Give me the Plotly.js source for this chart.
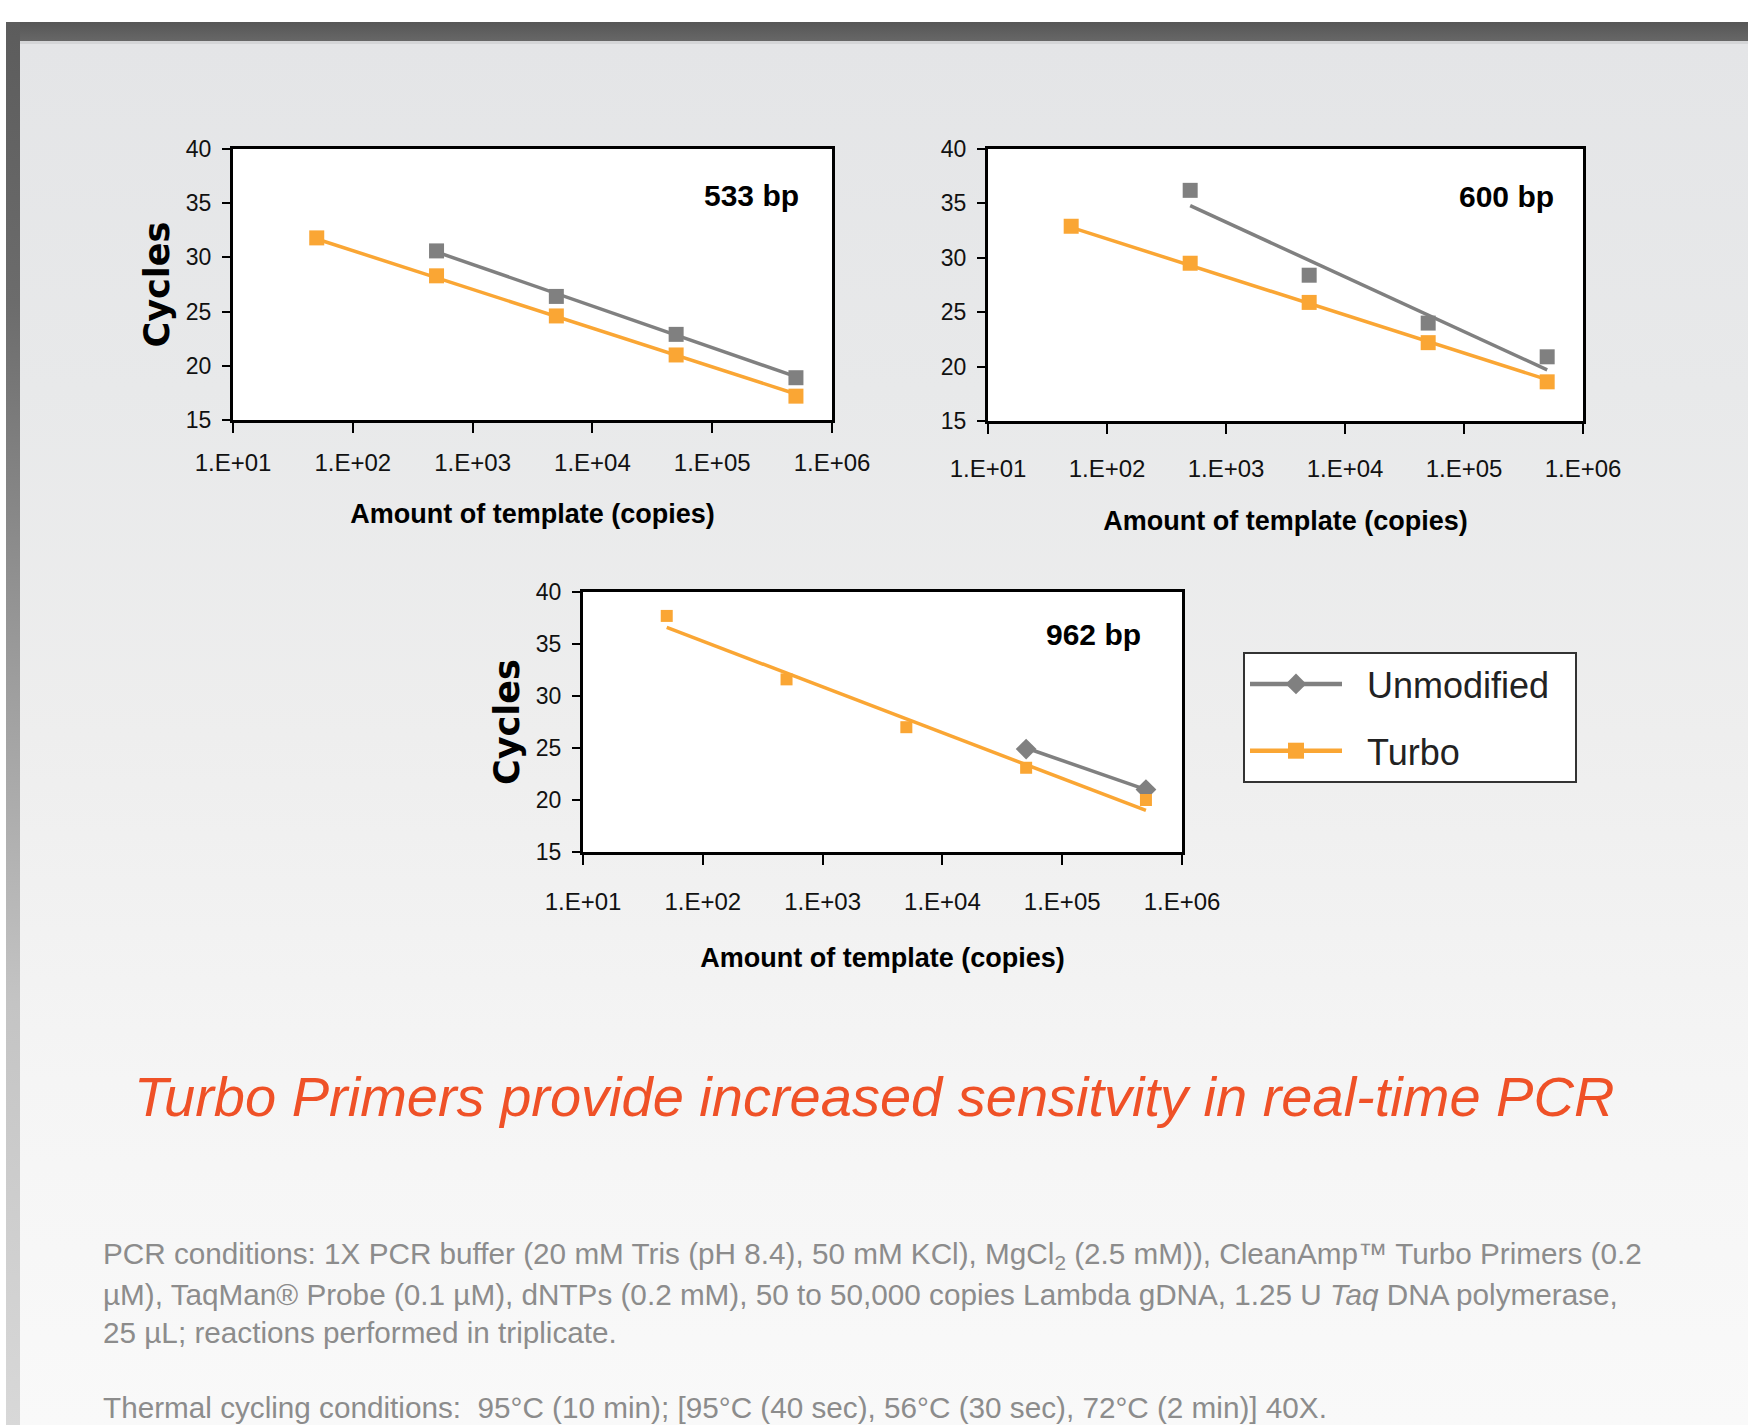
<!DOCTYPE html>
<html>
<head>
<meta charset="utf-8">
<script src="https://cdn.plot.ly/plotly-3.0.1.min.js"></script>
<style>
html,body{margin:0;padding:0;background:#fff;}
#wrap{position:relative;width:1748px;height:1425px;overflow:hidden;background:#fff;}
#band{position:absolute;left:6px;top:22px;width:1742px;height:19px;background:linear-gradient(#565656,#676767);}
#bandline{position:absolute;left:20px;top:41px;width:1728px;height:3px;background:#d4d5d7;}
#leftbar{position:absolute;left:6px;top:22px;width:14px;height:1403px;background:linear-gradient(#5c5c5c 0%,#6c6c6c 20%,#9a9a9a 45%,#c4c4c4 70%,#d8d8d8 100%);}
#panel{position:absolute;left:20px;top:44px;width:1728px;height:1381px;background:linear-gradient(#e4e5e7 0%,#e8e9ea 25%,#eeeeee 50%,#f5f5f5 75%,#f9f9f9 100%);}
#chart{position:absolute;left:0;top:0;width:1748px;height:1425px;}
</style>
</head>
<body>
<div id="wrap">
  <div id="panel"></div>
  <div id="band"></div>
  <div id="bandline"></div>
  <div id="leftbar"></div>
  <div id="chart"></div>
</div>
<script>
// ---------- data ----------
const tickVals = [10, 100, 1000, 10000, 100000, 1000000];
const tickText = ['1.E+01', '1.E+02', '1.E+03', '1.E+04', '1.E+05', '1.E+06'];
const yTicks = [15, 20, 25, 30, 35, 40];

const copies = [50, 500, 5000, 50000, 500000];

// 533 bp
const turbo533 = [31.8, 28.3, 24.6, 21.0, 17.2];
const unmod533Copies = [500, 5000, 50000, 500000];
const unmod533 = [30.6, 26.4, 22.9, 18.9];
const turbo533FitCopies = [50, 500000];
const turbo533Fit = [31.7, 17.4];
const unmod533FitCopies = [500, 500000];
const unmod533Fit = [30.5, 19.0];

// 600 bp
const turbo600 = [32.9, 29.5, 25.9, 22.2, 18.6];
const unmod600Copies = [500, 5000, 50000, 500000];
const unmod600 = [36.2, 28.4, 24.0, 20.9];
const turbo600FitCopies = [50, 500000];
const turbo600Fit = [32.8, 18.8];
const unmod600FitCopies = [500, 500000];
const unmod600Fit = [34.8, 19.7];

// 962 bp
const turbo962 = [37.7, 31.6, 27.0, 23.1, 20.0];
const unmod962Copies = [50000, 500000];
const unmod962 = [24.9, 21.0];
const turbo962FitCopies = [50, 500000];
const turbo962Fit = [36.6, 19.0];
const unmod962FitCopies = [50000, 500000];
const unmod962Fit = [25.0, 21.0];

const panelLabels = ['533 bp', '600 bp', '962 bp'];
const seriesNames = ['Unmodified', 'Turbo'];

// ---------- style ----------
const GRAY = '#808080';
const ORANGE = '#FAA634';
const SANS = '"Liberation Sans", Arial, sans-serif';
const NB = '\u00a0';

function fitLine(x, y, color, xa, ya) {
  return {x: x, y: y, xaxis: xa, yaxis: ya, mode: 'lines', type: 'scatter',
          line: {color: color, width: 3.5}, showlegend: false, hoverinfo: 'skip'};
}
function pts(x, y, color, symbol, size, xa, ya) {
  return {x: x, y: y, xaxis: xa, yaxis: ya, mode: 'markers', type: 'scatter',
          marker: {color: color, symbol: symbol, size: size, line: {width: 0}}, showlegend: false};
}

const traces = [
  fitLine(unmod533FitCopies, unmod533Fit, GRAY, 'x', 'y'),
  fitLine(turbo533FitCopies, turbo533Fit, ORANGE, 'x', 'y'),
  pts(unmod533Copies, unmod533, GRAY, 'square', 15, 'x', 'y'),
  pts(copies, turbo533, ORANGE, 'square', 15, 'x', 'y'),

  fitLine(unmod600FitCopies, unmod600Fit, GRAY, 'x2', 'y2'),
  fitLine(turbo600FitCopies, turbo600Fit, ORANGE, 'x2', 'y2'),
  pts(unmod600Copies, unmod600, GRAY, 'square', 15, 'x2', 'y2'),
  pts(copies, turbo600, ORANGE, 'square', 15, 'x2', 'y2'),

  fitLine(unmod962FitCopies, unmod962Fit, GRAY, 'x3', 'y3'),
  fitLine(turbo962FitCopies, turbo962Fit, ORANGE, 'x3', 'y3'),
  pts(unmod962Copies, unmod962, GRAY, 'diamond', 16, 'x3', 'y3'),
  pts(copies, turbo962, ORANGE, 'square', 12, 'x3', 'y3'),

  // legend entries
  {x: [null], y: [null], xaxis: 'x3', yaxis: 'y3', type: 'scatter', mode: 'lines+markers',
   name: NB + NB + seriesNames[0] + NB + NB, legendgroup: 'a', line: {color: GRAY, width: 4.5},
   marker: {color: GRAY, symbol: 'diamond', size: 16}},
  {x: [null], y: [null], xaxis: 'x3', yaxis: 'y3', type: 'scatter', mode: 'lines+markers',
   name: NB + NB + seriesNames[1], legendgroup: 'b', line: {color: ORANGE, width: 4.5},
   marker: {color: ORANGE, symbol: 'square', size: 16}}
];

function xAxis(domain, anchor, labelGap, titleGap) {
  return {
    domain: domain, anchor: anchor, type: 'log', range: [1, 6],
    tickvals: tickVals, ticktext: tickText,
    ticks: 'outside', ticklen: 10, tickwidth: 2, tickcolor: '#000',
    showline: true, linecolor: '#000', linewidth: 3, mirror: true,
    showgrid: false, zeroline: false, ticklabelstandoff: labelGap,
    tickfont: {family: SANS, size: 24, color: '#111'},
    title: {text: 'Amount of template (copies)', standoff: titleGap,
            font: {family: SANS, size: 27, color: '#000', weight: 'bold'}}
  };
}
function yAxis(domain, anchor, withTitle) {
  const ax = {
    domain: domain, anchor: anchor, range: [15, 40], tickvals: yTicks,
    ticks: 'outside', ticklen: 8, tickwidth: 2, tickcolor: '#000',
    showline: true, linecolor: '#000', linewidth: 3, mirror: true,
    showgrid: false, zeroline: false, ticklabelstandoff: 6,
    tickfont: {family: SANS, size: 23, color: '#111'}
  };
  if (withTitle) {
    ax.title = {text: 'Cycles', standoff: 6,
                font: {family: '"DejaVu Sans", sans-serif', size: 35, color: '#000', weight: 'bold'}};
  }
  return ax;
}

const W = 1748, H = 1425;
const px = v => v / W;
const py = v => 1 - v / H;

const layout = {
  width: W, height: H,
  margin: {l: 0, r: 0, t: 0, b: 0},
  paper_bgcolor: 'rgba(0,0,0,0)',
  plot_bgcolor: '#ffffff',
  showlegend: true,
  legend: {x: px(1243), y: py(652), xanchor: 'left', yanchor: 'top',
           bgcolor: '#ffffff', bordercolor: '#333333', borderwidth: 2,
           font: {family: SANS, size: 36, color: '#222'},
           itemwidth: 92, tracegroupgap: 17, traceorder: 'grouped'},
  xaxis: xAxis([px(233), px(832)], 'y', 9, 30),
  yaxis: yAxis([py(420), py(149)], 'x', true),
  xaxis2: xAxis([px(988), px(1583)], 'y2', 14, 31),
  yaxis2: yAxis([py(421), py(149)], 'x2', false),
  xaxis3: xAxis([px(583), px(1182)], 'y3', 16, 35),
  yaxis3: yAxis([py(852), py(592)], 'x3', true),
  annotations: [
    {text: panelLabels[0], xref: 'x domain', yref: 'y domain', x: 0.866, y: 0.827,
     xanchor: 'center', yanchor: 'middle',
     showarrow: false, font: {family: SANS, size: 30, color: '#000', weight: 'bold'}},
    {text: panelLabels[1], xref: 'x2 domain', yref: 'y2 domain', x: 0.871, y: 0.827,
     xanchor: 'center', yanchor: 'middle',
     showarrow: false, font: {family: SANS, size: 30, color: '#000', weight: 'bold'}},
    {text: panelLabels[2], xref: 'x3 domain', yref: 'y3 domain', x: 0.853, y: 0.838,
     xanchor: 'center', yanchor: 'middle',
     showarrow: false, font: {family: SANS, size: 30, color: '#000', weight: 'bold'}},
    {text: '<i>Turbo Primers provide increased sensitvity in real-time PCR</i>',
     xref: 'paper', yref: 'paper', x: 0.5, y: py(1096), xanchor: 'center', yanchor: 'middle',
     showarrow: false, font: {family: SANS, size: 56, color: '#EF5127'}},
    {text: 'PCR conditions: 1X PCR buffer (20 mM Tris (pH 8.4), 50 mM KCl), MgCl<sub>2</sub> (2.5 mM)), CleanAmp™ Turbo Primers (0.2',
     xref: 'paper', yref: 'paper', x: px(101), y: py(1255), xanchor: 'left', yanchor: 'middle',
     showarrow: false, align: 'left', font: {family: SANS, size: 29.7, color: '#8c8c8c'}},
    {text: 'µM), TaqMan® Probe (0.1 µM), dNTPs (0.2 mM), 50 to 50,000 copies Lambda gDNA, 1.25 U <i>Taq</i> DNA polymerase,',
     xref: 'paper', yref: 'paper', x: px(101), y: py(1294), xanchor: 'left', yanchor: 'middle',
     showarrow: false, align: 'left', font: {family: SANS, size: 29.7, color: '#8c8c8c'}},
    {text: '25 µL; reactions performed in triplicate.',
     xref: 'paper', yref: 'paper', x: px(101), y: py(1332), xanchor: 'left', yanchor: 'middle',
     showarrow: false, align: 'left', font: {family: SANS, size: 29.7, color: '#8c8c8c'}},
    {text: 'Thermal cycling conditions:  95°C (10 min); [95°C (40 sec), 56°C (30 sec), 72°C (2 min)] 40X.',
     xref: 'paper', yref: 'paper', x: px(101), y: py(1407), xanchor: 'left', yanchor: 'middle',
     showarrow: false, align: 'left', font: {family: SANS, size: 29.7, color: '#8c8c8c'}}
  ]
};

Plotly.newPlot('chart', traces, layout, {displayModeBar: false, staticPlot: true});
</script>
</body>
</html>
